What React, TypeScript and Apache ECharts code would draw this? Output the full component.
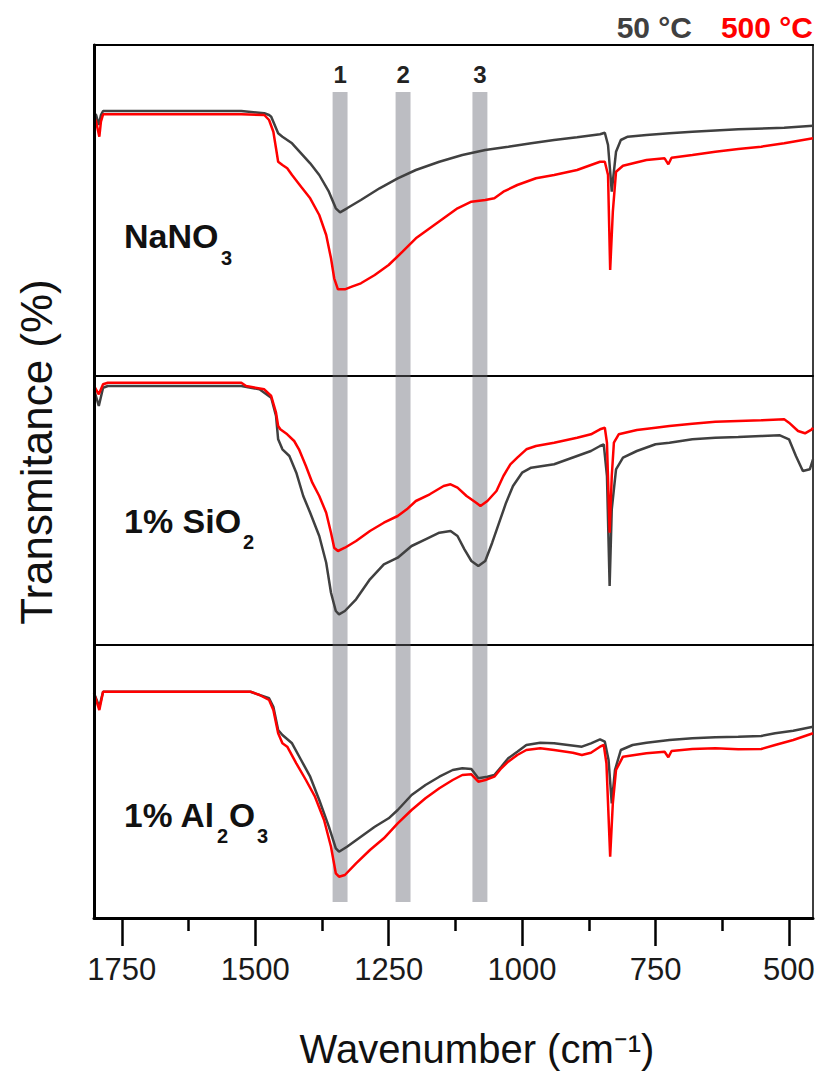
import React, { useEffect, useRef } from "react";
import * as echarts from "echarts";

// ---------- data (wavenumber cm^-1, relative transmittance a.u. above panel floor) ----------
const X_MIN = 455;
const X_MAX = 1802;
const majorTicks = [1750, 1500, 1250, 1000, 750, 500];
const minorTicks = [1625, 1375, 1125, 875, 625];

const bandCenters = [1341, 1223, 1079];
const bandLabels = ["1", "2", "3"];
const bandHalfWidth = 14;

const panelHeights = [331, 269, 273];

const nano3_50C: number[][] = [
  [1802, 262.7], [1798, 261], [1793, 251], [1789, 261], [1785, 265], [1776, 265], [1526, 265],
  [1483, 262.7], [1474, 261], [1470, 259.3], [1457, 242.7], [1449, 239.3], [1431, 232.7],
  [1414, 222.7], [1397, 212.7], [1380, 201], [1362, 184.3], [1349, 167.7], [1341, 163.7],
  [1328, 167.7], [1302, 176], [1267, 187.7], [1233, 197.7], [1199, 206], [1155, 214.3],
  [1112, 221], [1069, 226], [1026, 229.3], [983, 232.7], [940, 236], [897, 238.7], [854, 241.7],
  [845, 243.3], [839, 231], [832, 184.3], [824, 224.3], [815, 236], [802, 239.3], [767, 241],
  [724, 242.7], [681, 244.3], [595, 246.7], [509, 248.3], [455, 250.3],
];
const nano3_500C: number[][] = [
  [1802, 259.3], [1798, 254.3], [1792, 239.3], [1789, 254.3], [1785, 261.7], [1526, 261.7],
  [1483, 261], [1474, 256], [1466, 244.3], [1461, 227.7], [1457, 214.3], [1449, 211], [1440, 207.7],
  [1431, 201], [1414, 189.3], [1397, 177.7], [1380, 161], [1367, 141], [1358, 117.7], [1352, 97.7],
  [1345, 86.7], [1332, 86.7], [1319, 89.3], [1302, 92.7], [1276, 101], [1250, 111], [1224, 124.3],
  [1199, 137.7], [1173, 147.7], [1147, 157.7], [1121, 167.7], [1095, 174.3], [1069, 176],
  [1052, 177.7], [1035, 184.3], [1009, 191], [974, 197.7], [940, 201], [897, 206], [854, 214.3],
  [845, 214.3], [839, 201], [835, 106], [830, 164.3], [824, 204.3], [811, 210.3], [767, 216],
  [733, 217.7], [726, 211.7], [720, 218.3], [681, 221], [638, 224.3], [595, 227], [552, 229.3],
  [509, 232.7], [455, 237.7],
];
const sio2_50C: number[][] = [
  [1802, 255.7], [1793, 239], [1785, 257.3], [1776, 259], [1526, 259], [1492, 255.7], [1470, 247.3],
  [1461, 229], [1457, 205.7], [1449, 195.7], [1436, 189], [1423, 172.3], [1410, 149], [1397, 132.3],
  [1380, 109], [1367, 82.3], [1358, 52.3], [1349, 34], [1343, 30.7], [1332, 34], [1311, 45.7],
  [1285, 65.7], [1259, 80.7], [1233, 87.3], [1207, 99], [1181, 105.7], [1155, 112.3], [1134, 114],
  [1121, 109], [1108, 95.7], [1095, 84], [1082, 79], [1069, 84], [1056, 102.3], [1043, 122.3],
  [1030, 142.3], [1017, 159], [1000, 172.3], [983, 177.3], [940, 180.7], [897, 189], [871, 194],
  [854, 199], [847, 200.7], [841, 169], [836, 59], [832, 135.7], [824, 175.7], [811, 187.3],
  [785, 194], [750, 200.7], [724, 202.3], [681, 205.7], [638, 207.3], [595, 208], [552, 209],
  [517, 209.7], [500, 205.7], [487, 189], [474, 174], [461, 175.7], [455, 185.7],
];
const sio2_500C: number[][] = [
  [1802, 259], [1793, 250.7], [1785, 260.7], [1776, 262.3], [1526, 262.3], [1517, 259], [1483, 255.7],
  [1470, 249], [1461, 232.3], [1457, 219], [1453, 215.7], [1440, 210.7], [1427, 204], [1418, 195.7],
  [1405, 179], [1393, 162.3], [1380, 149], [1367, 132.3], [1358, 112.3], [1352, 97.3], [1345, 94],
  [1332, 97.3], [1311, 104], [1285, 114], [1259, 122.3], [1233, 129], [1216, 135.7], [1199, 144],
  [1173, 150.7], [1147, 159], [1134, 160.7], [1121, 157.3], [1104, 149], [1086, 142.3], [1078, 139],
  [1065, 144], [1048, 154], [1035, 169], [1022, 180.7], [1009, 187.3], [992, 195.7], [974, 199],
  [940, 202.3], [897, 207.3], [871, 210.7], [854, 215.7], [845, 217.3], [841, 202.3], [836, 112.3],
  [832, 169], [828, 202.3], [819, 210.7], [785, 215], [750, 217.3], [724, 219], [681, 221.3],
  [638, 223.3], [595, 224], [552, 224.7], [509, 225.7], [500, 222.3], [483, 214], [470, 211.7],
  [457, 215.7], [455, 217.3],
];
const al2o3_50C: number[][] = [
  [1802, 224.7], [1792, 211.3], [1785, 226.3], [1776, 226.3], [1509, 226.3], [1474, 219.7],
  [1466, 211.3], [1457, 188], [1449, 183], [1431, 174.7], [1414, 158], [1397, 141.3], [1380, 118],
  [1362, 91.3], [1349, 69.7], [1343, 66.3], [1328, 71.3], [1302, 81.3], [1276, 91.3], [1250, 99.7],
  [1233, 108], [1207, 123], [1181, 133], [1155, 141.3], [1130, 148], [1112, 149.7], [1095, 149],
  [1082, 139.7], [1065, 141.3], [1052, 143], [1039, 151.3], [1026, 159.7], [1009, 166.3], [992, 173],
  [966, 175.3], [940, 174.7], [914, 173], [888, 171.3], [871, 174.7], [854, 178.7], [845, 176.3],
  [838, 158], [832, 114.7], [826, 148], [815, 168], [793, 173], [767, 175.3], [724, 178],
  [681, 179.7], [638, 180.7], [595, 181.3], [552, 182], [526, 184.7], [492, 187.3], [455, 191.3],
];
const al2o3_500C: number[][] = [
  [1802, 224.7], [1792, 208], [1785, 226.3], [1776, 226.3], [1509, 226.3], [1492, 223], [1474, 218],
  [1466, 208], [1457, 184.7], [1449, 174.7], [1440, 171.3], [1423, 154.7], [1405, 138], [1388, 121.3],
  [1371, 98], [1358, 71.3], [1349, 44.7], [1343, 41.3], [1332, 43], [1311, 54.7], [1285, 68],
  [1259, 79.7], [1233, 94.7], [1207, 108], [1181, 119.7], [1155, 129.7], [1130, 138], [1112, 143],
  [1095, 143.7], [1082, 136.3], [1069, 138], [1052, 141.3], [1039, 149.7], [1026, 156.3], [1009, 163],
  [992, 168], [966, 169.7], [940, 168], [905, 165.3], [888, 163], [871, 165.3], [854, 171.3],
  [847, 173], [842, 154.7], [835, 61.3], [830, 114.7], [824, 148], [811, 161.3], [767, 164.7],
  [733, 166.3], [726, 160.7], [720, 167], [681, 169], [638, 169.7], [595, 168.7], [552, 169],
  [526, 173], [492, 178], [455, 184.7],
];

const seriesNames = ["50 °C", "500 °C"];
const panelData = [
  [nano3_50C, nano3_500C],
  [sio2_50C, sio2_500C],
  [al2o3_50C, al2o3_500C],
];

// ---------- style ----------
const DARK = "#404040";
const RED = "#ff0000";
const BAND = "#bcbdc2";
const FONT = "'Liberation Sans', Arial, sans-serif";
const NARROW = "'Liberation Sans Narrow', 'Liberation Sans', Arial, sans-serif";

const gridTops = [45, 376, 645];
// band extents (value units within each panel): [bottom, top]
const bandExtent = [
  [0, 284],
  [0, 269],
  [16, 273],
];

export default function App() {
  const ref = useRef<HTMLDivElement>(null);

  useEffect(() => {
    if (!ref.current) return;
    const chart = echarts.init(ref.current, undefined, { renderer: "svg" });

    const grids = gridTops.map((top, i) => ({
      left: 94,
      right: 3,
      top,
      height: panelHeights[i],
      show: true,
      borderColor: "#000",
      borderWidth: 1.5,
      backgroundColor: "transparent",
      containLabel: false,
      outerBoundsMode: "none",
    }));

    const baseX = (gridIndex: number) => ({
      type: "value",
      gridIndex,
      min: X_MIN,
      max: X_MAX,
      inverse: true,
      splitLine: { show: false },
      axisTick: { show: false },
      axisLabel: { show: false },
    });

    const xAxes: any[] = [
      { ...baseX(0), position: "top", z: 10, axisLine: { show: true, onZero: false, lineStyle: { color: "#000", width: 2 } } },
      { ...baseX(1), position: "top", z: 10, axisLine: { show: true, onZero: false, lineStyle: { color: "#000", width: 1.5 } } },
      { ...baseX(2), position: "top", z: 10, axisLine: { show: true, onZero: false, lineStyle: { color: "#000", width: 1.5 } } },
      {
        ...baseX(2),
        position: "bottom",
        z: 10,
        axisLine: { show: true, onZero: false, lineStyle: { color: "#000", width: 3 } },
        axisTick: { show: true, inside: false, length: 28, customValues: majorTicks, lineStyle: { color: "#000", width: 2.5 } },
        axisLabel: {
          show: true,
          customValues: majorTicks,
          formatter: (v: number) => String(v),
          margin: 36,
          fontSize: 31,
          color: "#1a1a1a",
          fontFamily: FONT,
        },
      },
      {
        ...baseX(2),
        position: "bottom",
        axisLine: { show: false },
        axisTick: { show: true, inside: false, length: 13, customValues: minorTicks, lineStyle: { color: "#000", width: 2.5 } },
        axisLabel: { show: false },
      },
    ];

    const yAxes = panelHeights.map((h, i) => ({
      type: "value",
      gridIndex: i,
      min: 0,
      max: h,
      z: 10,
      axisLine: { show: true, onZero: false, lineStyle: { color: "#000", width: 3 } },
      axisTick: { show: false },
      axisLabel: { show: false },
      splitLine: { show: false },
    }));

    const series: any[] = [];
    panelData.forEach((pair, i) => {
      series.push({
        type: "line",
        name: "bands" + i,
        xAxisIndex: i,
        yAxisIndex: i,
        data: [],
        z: 1,
        silent: true,
        markArea: {
          silent: true,
          itemStyle: { color: BAND, opacity: 1 },
          label: {
            show: i === 0,
            position: "top",
            distance: 6,
            fontSize: 24,
            fontWeight: "bold",
            color: "#222",
            fontFamily: NARROW,
          },
          data: bandCenters.map((c, k) => [
            { name: bandLabels[k], xAxis: c + bandHalfWidth, yAxis: bandExtent[i][0] },
            { xAxis: c - bandHalfWidth, yAxis: bandExtent[i][1] },
          ]),
        },
      });
      pair.forEach((d, k) => {
        series.push({
          type: "line",
          name: seriesNames[k],
          xAxisIndex: i,
          yAxisIndex: i,
          data: d,
          showSymbol: false,
          symbol: "none",
          z: 3 + k,
          lineStyle: { color: k === 0 ? DARK : RED, width: 2.5 },
          itemStyle: { color: k === 0 ? DARK : RED },
        });
      });
    });

    const boldText = (text: string, x: number, y: number, size: number, color = "#111", align = "left") => ({
      type: "text",
      x,
      y,
      style: {
        text,
        fontSize: size,
        fontWeight: "bold",
        fontFamily: FONT,
        fill: color,
        textAlign: align,
        textVerticalAlign: "middle",
      },
    });

    const graphic: any[] = [
      // legend
      boldText("50 °C", 692, 27, 30, DARK, "right"),
      boldText("500 °C", 813, 27, 30, RED, "right"),
      // panel labels
      boldText("NaNO", 124, 236, 34),
      boldText("3", 221, 258, 20),
      boldText("1% SiO", 124, 521, 34),
      boldText("2", 243, 542, 20),
      boldText("1% Al", 124, 815, 33.5),
      boldText("2", 217, 836, 20),
      boldText("O", 229, 815, 33.5),
      boldText("3", 257, 836, 20),
      // axis titles
      {
        type: "text",
        x: 477,
        y: 1049,
        style: {
          text: "Wavenumber (cm⁻¹)",
          fontSize: 40,
          fontFamily: FONT,
          fill: "#111",
          textAlign: "center",
          textVerticalAlign: "middle",
        },
      },
      {
        type: "text",
        x: 36,
        y: 452,
        rotation: Math.PI / 2,
        style: {
          text: "Transmitance (%)",
          fontSize: 44,
          fontFamily: FONT,
          fill: "#111",
          textAlign: "center",
          textVerticalAlign: "middle",
        },
      },
    ];

    chart.setOption({
      animation: false,
      backgroundColor: "#fff",
      grid: grids,
      xAxis: xAxes,
      yAxis: yAxes,
      series,
      graphic,
    });

    return () => chart.dispose();
  }, []);

  return <div ref={ref} style={{ position: "absolute", left: 0, top: 0, width: 816, height: 1073 }} />;
}
